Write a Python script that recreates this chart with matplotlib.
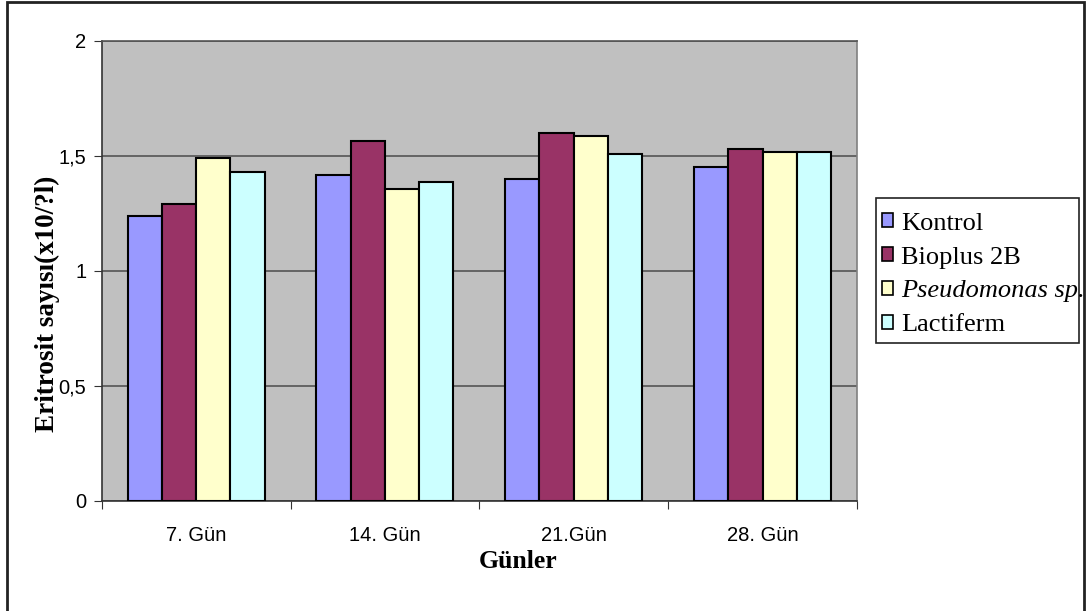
import matplotlib
matplotlib.use("Agg")
import matplotlib.pyplot as plt
from matplotlib.patches import Rectangle
import numpy as np

categories = ["7. Gün", "14. Gün", "21.Gün", "28. Gün"]
series_names = ["Kontrol", "Bioplus 2B", "Pseudomonas sp.", "Lactiferm"]
kontrol = [1.24, 1.415, 1.40, 1.45]
bioplus = [1.29, 1.565, 1.60, 1.53]
pseudomonas = [1.49, 1.355, 1.585, 1.515]
lactiferm = [1.43, 1.385, 1.51, 1.515]
yticks = [0, 0.5, 1, 1.5, 2]
ytick_labels = ["0", "0,5", "1", "1,5", "2"]
colors = ["#9999FF", "#993366", "#FFFFCC", "#CCFFFF"]

W, H = 1091, 611
fig = plt.figure(figsize=(W / 100, H / 100), dpi=100)
ax = fig.add_axes([101.7 / W, 1 - 500.7 / H, (857 - 101.7) / W, (500.7 - 41) / H])
ax.set_facecolor("#C0C0C0")

x = np.arange(len(categories))
bw = 0.1815
data = [kontrol, bioplus, pseudomonas, lactiferm]
for i, (vals, c, name) in enumerate(zip(data, colors, series_names)):
    ax.bar(x + (i - 1.5) * bw, vals, width=bw, color=c, edgecolor="black",
           linewidth=1.5, label=name, zorder=3)

ax.set_xlim(-0.5, len(categories) - 0.5)
ax.set_ylim(0, 2)
ax.set_yticks(yticks)
ax.set_yticklabels(ytick_labels, fontfamily="Liberation Sans", fontsize=14.5)
ax.yaxis.grid(True, color="#555555", linewidth=1.2, zorder=0)
ax.set_axisbelow(True)

ax.set_xticks(np.arange(len(categories) + 1) - 0.5)
ax.set_xticklabels([])
ax.set_xticks(x, minor=True)
ax.set_xticklabels(categories, minor=True, fontfamily="Liberation Sans", fontsize=14.5)
ax.tick_params(axis="x", which="minor", length=0, pad=18)
ax.tick_params(axis="x", which="major", length=6, color="#333333")
ax.tick_params(axis="y", length=6, color="#333333", pad=5)

for s in ["left", "bottom"]:
    ax.spines[s].set_color("#333333")
    ax.spines[s].set_linewidth(1.2)
ax.spines["right"].set_color("#808080")
ax.spines["right"].set_linewidth(1.2)
ax.spines["top"].set_color("#555555")
ax.spines["top"].set_linewidth(1.2)

fig.text(518 / W, 1 - 561 / H, "Günler", fontfamily="Liberation Serif",
         fontweight="bold", fontsize=18.5, ha="center", va="center")
fig.text(47 / W, 1 - 304 / H, "Eritrosit sayısı(x10/?l)", fontfamily="Liberation Serif",
         fontweight="bold", fontsize=19.5, ha="center", va="center", rotation=90)

leg = fig.legend(loc="center left", bbox_to_anchor=(882 / W, 1 - 274.5 / H),
                 prop={"family": "Liberation Serif", "size": 19},
                 frameon=False,
                 handlelength=0.42, handleheight=0.42, handletextpad=0.3,
                 borderpad=0, labelspacing=0.45, borderaxespad=0)
for h in leg.legend_handles:
    h.set_linewidth(1.2)
    h.set_edgecolor("black")
for t in leg.get_texts():
    if t.get_text().startswith("Pseudomonas"):
        t.set_fontstyle("italic")

fig.patches.append(Rectangle((876 / W, 1 - 343 / H), (1079 - 876) / W, (343 - 198) / H,
                             transform=fig.transFigure, fill=True, facecolor="white",
                             edgecolor="#222222", linewidth=1.2, zorder=0))

fig.patches.append(Rectangle((7 / W, -0.05), (1084 - 7) / W, 1.05 - 2.5 / H,
                             transform=fig.transFigure, fill=False,
                             edgecolor="#222222", linewidth=2))

fig.savefig("out.png", dpi=100)
